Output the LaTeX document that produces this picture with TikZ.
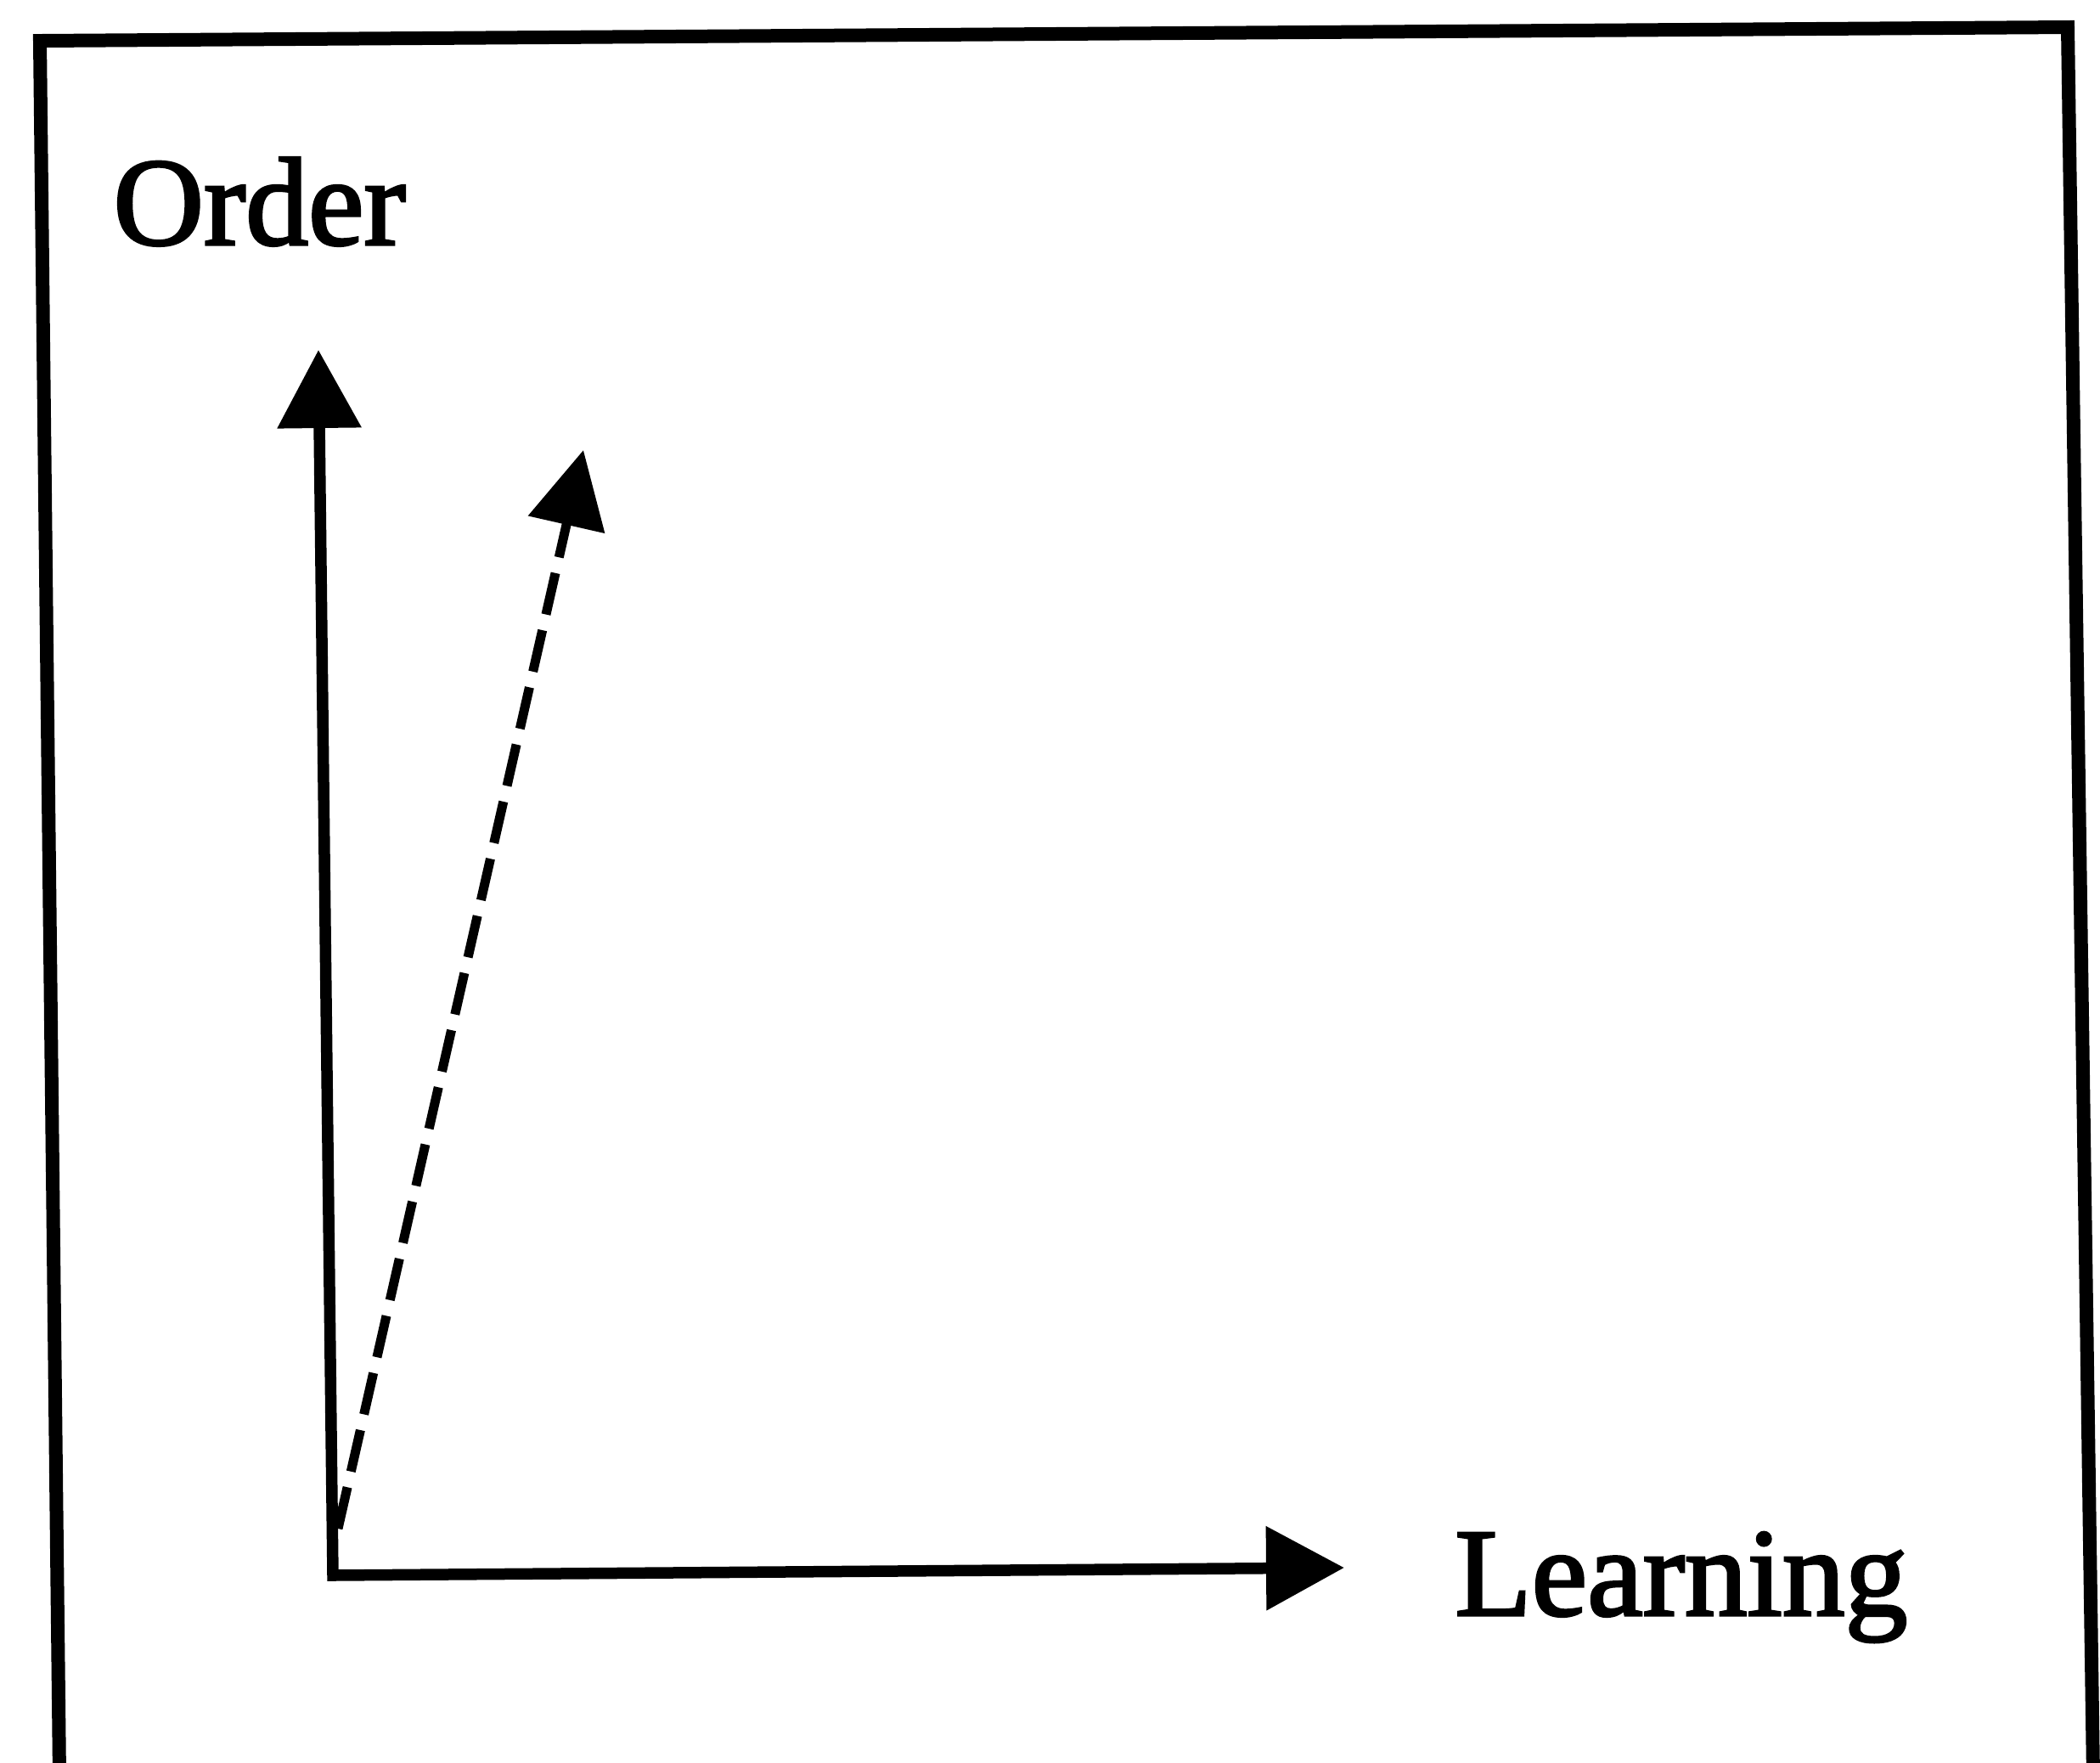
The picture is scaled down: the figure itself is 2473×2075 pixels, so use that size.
\documentclass[tikz,border=0pt]{standalone}
\usepackage{fontspec}
\setmainfont{Liberation Serif}
\newfontfamily\lblfont{Liberation Serif}[FakeBold=2.2]
\usetikzlibrary{arrows.meta}
\tikzset{sc/.style={x=.1mm,y=-.1mm,line width=1.3mm},
  frm/.style={line width=1.6mm,line join=miter},
  ax/.style={line width=1.35mm,line join=miter},
  dsh/.style={line width=1.1mm,dash pattern=on 5mm off 1.9mm,-{Triangle[length=9mm,width=9mm]}},
  lbl/.style={inner sep=0,font=\lblfont\fontsize{42}{48}\selectfont}}

\begin{document}
\begin{tikzpicture}[sc]
  \clip (0,0) rectangle (2473,2075);
  \fill[white] (0,0) rectangle (2473,2075);
  \draw[frm] (70,2090) -- (47,48) -- (2435,32) -- (2465,2090);
  \coordinate (org) at (392,1855);
  \coordinate (ytip) at (375,412);
  \coordinate (xtip) at (1583,1846);
  \coordinate (dbeg) at (398,1800);
  \coordinate (dtip) at (687,530);
  \draw[ax,{Triangle[length=9.2mm,width=9.6mm]}-{Triangle[length=9.2mm,width=9.6mm]}] (ytip) -- (org) -- (xtip);
  \draw[dsh] (dbeg) -- (dtip);
  \node[lbl,anchor=base west] (ord) at (127,288) {Order};
  \node[lbl,anchor=base west] (lrn) at (1707,1902) {Learning};
\end{tikzpicture}
\end{document}
